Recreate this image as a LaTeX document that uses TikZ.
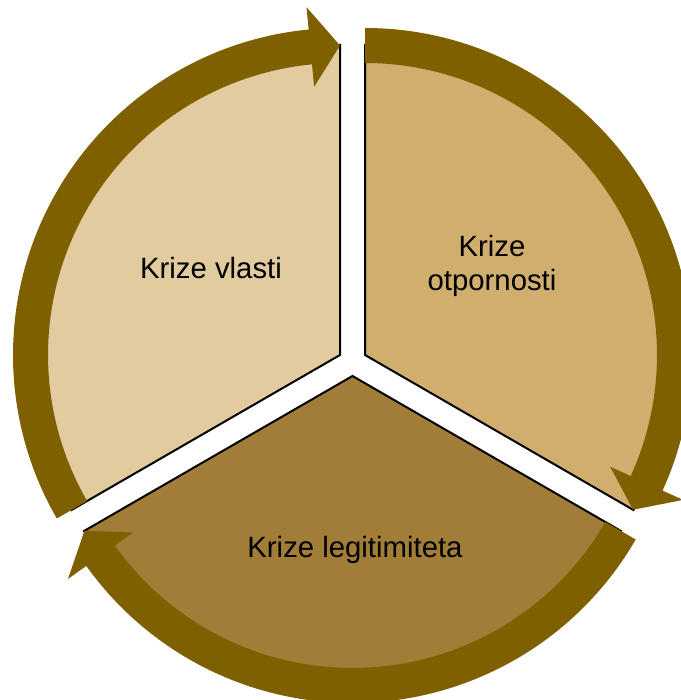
\documentclass[tikz,border=0pt]{standalone}
\usepackage{fontspec}
\setmainfont{Liberation Sans}
\usetikzlibrary{positioning, calc}
\definecolor{crisisband}{HTML}{7F6000}
\definecolor{powerfill}{HTML}{E1CB9F}
\definecolor{resistfill}{HTML}{D0AE6E}
\definecolor{legitfill}{HTML}{A27D38}

\begin{document}
\begin{tikzpicture}[
        x=0.75pt, y=0.75pt,
        segment/.style={
            draw=black,
            line width=1.5pt,
            line join=miter
        },
        band/.style={fill=crisisband},
        crisislabel/.style={
            font=\fontsize{22}{26}\selectfont,
            align=center,
            text=black
        }
    ]
        \useasboundingbox (0,0) rectangle (681,700);

        % centres of the three shifted segments
        \coordinate (cl) at (340,345);
        \coordinate (cr) at (365,345);
        \coordinate (cb) at (352.5,324);

        % segments
        \begin{scope}[shift={(cl)}]
            \filldraw[segment, fill=powerfill] (0,0) -- (90:310)
                arc[start angle=90, end angle=210, radius=310] -- cycle;
        \end{scope}
        \begin{scope}[shift={(cr)}]
            \filldraw[segment, fill=resistfill] (0,0) -- (-30:310)
                arc[start angle=-30, end angle=90, radius=310] -- cycle;
        \end{scope}
        \begin{scope}[shift={(cb)}]
            \filldraw[segment, fill=legitfill] (0,0) -- (210:310)
                arc[start angle=210, end angle=330, radius=310] -- cycle;
        \end{scope}

        % circular arrows
        \begin{scope}[shift={(cl)}]
            \fill[band] (210:327)
                arc[start angle=210, end angle=95.5, radius=327]
                -- (95.5:349.5) -- (90:309.5) -- (95.5:269.5) -- (95.5:292)
                arc[start angle=95.5, end angle=210, radius=292] -- cycle;
        \end{scope}
        \begin{scope}[shift={(cr)}]
            \fill[band] (90:327)
                arc[start angle=90, end angle=-24.5, radius=327]
                -- (-24.5:349.5) -- (-30:309.5) -- (-24.5:269.5) -- (-24.5:292)
                arc[start angle=-24.5, end angle=90, radius=292] -- cycle;
        \end{scope}
        \begin{scope}[shift={(cb)}]
            \fill[band] (-30:327)
                arc[start angle=-30, end angle=-144.5, radius=327]
                -- (-144.5:349.5) -- (-150:309.5) -- (-144.5:269.5) -- (-144.5:292)
                arc[start angle=-144.5, end angle=-30, radius=292] -- cycle;
        \end{scope}

        % labels
        \node[crisislabel] (vlasti) at (211,432) {Krize vlasti};
        \node[crisislabel] (otpornosti) at (492,434) {Krize\\otpornosti};
        \node[crisislabel] (legitimiteta) at (355,150) {Krize legitimiteta};
    \end{tikzpicture}
\end{document}
